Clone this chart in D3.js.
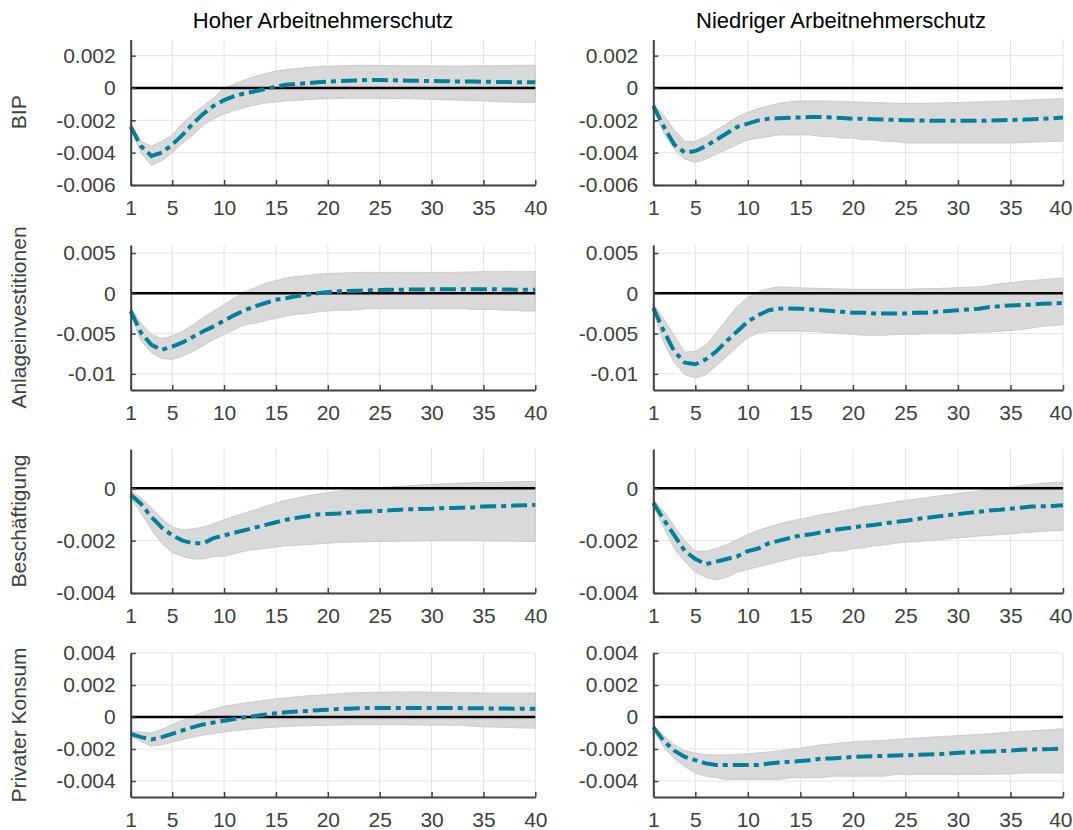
<!DOCTYPE html>
<html>
<head>
<meta charset="utf-8">
<script src="https://cdn.jsdelivr.net/npm/d3@7"></script>
<style>
  body { margin: 0; background: #fff; }
  svg { font-family: "Liberation Sans", Arial, sans-serif; }
</style>
</head>
<body>
<svg class="svg"></svg>
<script>
// horizon (quarters)
let periods = [1,2,3,4,5,6,7,8,9,10,11,12,13,14,15,16,17,18,19,20,
               21,22,23,24,25,26,27,28,29,30,31,32,33,34,35,36,37,38,39,40]
let xTicks = [1,5,10,15,20,25,30,35,40]

let colTitles = ["Hoher Arbeitnehmerschutz", "Niedriger Arbeitnehmerschutz"]
let rowLabels = ["BIP", "Anlageinvestitionen", "Beschäftigung", "Privater Konsum"]

let yDomains = [[-0.006, 0.003], [-0.012, 0.006], [-0.004, 0.0015], [-0.005, 0.004]]
let yTicks = [[-0.006, -0.004, -0.002, 0, 0.002],
              [-0.01, -0.005, 0, 0.005],
              [-0.004, -0.002, 0],
              [-0.004, -0.002, 0, 0.002, 0.004]]

// BIP, hoher Schutz
let bipHochMed = [-0.0024,-0.0036,-0.0042,-0.0040,-0.0035,-0.0029,-0.0022,-0.0016,-0.0011,-0.00075,
                  -0.0005,-0.00033,-0.0002,-0.00006,0.00008,0.0002,0.00025,0.0003,0.00035,0.0004,
                  0.00043,0.00045,0.00047,0.0005,0.0005,0.00048,0.00046,0.00045,0.00044,0.00043,
                  0.00042,0.00041,0.0004,0.0004,0.00039,0.00038,0.00037,0.00036,0.00035,0.00035]
let bipHochHi = [-0.0022,-0.0033,-0.0036,-0.0033,-0.0029,-0.0022,-0.0016,-0.0011,-0.0006,0.0,
                 0.00025,0.0005,0.00072,0.0009,0.00105,0.00114,0.0012,0.00128,0.00132,0.00135,
                 0.00137,0.00139,0.0014,0.0014,0.00139,0.00139,0.00138,0.00138,0.00137,0.00137,
                 0.00136,0.00136,0.00136,0.00137,0.00137,0.00138,0.00139,0.0014,0.0014,0.0014]
let bipHochLo = [-0.0026,-0.0040,-0.0048,-0.0045,-0.0040,-0.0034,-0.0029,-0.0023,-0.0019,-0.0016,
                 -0.0014,-0.0012,-0.00105,-0.00093,-0.00087,-0.0008,-0.00077,-0.00072,-0.00068,-0.00066,
                 -0.00065,-0.00064,-0.00064,-0.00064,-0.00064,-0.00065,-0.00065,-0.00066,-0.00068,-0.0007,
                 -0.00072,-0.00074,-0.00076,-0.00078,-0.0008,-0.00083,-0.00086,-0.00088,-0.0009,-0.0009]

// BIP, niedriger Schutz
let bipNiedMed = [-0.0011,-0.0024,-0.0035,-0.0040,-0.0039,-0.0036,-0.0032,-0.0028,-0.0024,-0.0022,
                  -0.0020,-0.0019,-0.00187,-0.00184,-0.00182,-0.0018,-0.0018,-0.00182,-0.00185,-0.0019,
                  -0.0019,-0.00193,-0.00195,-0.00197,-0.002,-0.002,-0.00202,-0.00203,-0.00203,-0.00203,
                  -0.00203,-0.00203,-0.00202,-0.002,-0.00198,-0.00196,-0.00194,-0.0019,-0.00187,-0.00183]
let bipNiedHi = [-0.001,-0.0017,-0.0026,-0.0033,-0.0033,-0.003,-0.0026,-0.0022,-0.0018,-0.0015,
                 -0.00127,-0.0011,-0.00095,-0.00085,-0.0008,-0.0008,-0.0008,-0.00082,-0.00084,-0.00086,
                 -0.00088,-0.0009,-0.00092,-0.00094,-0.00095,-0.00095,-0.00094,-0.00093,-0.00091,-0.0009,
                 -0.00088,-0.00086,-0.00084,-0.00082,-0.0008,-0.00077,-0.00074,-0.00071,-0.00068,-0.00065]
let bipNiedLo = [-0.0012,-0.0028,-0.0038,-0.0044,-0.0046,-0.0044,-0.0041,-0.0038,-0.0035,-0.0032,
                 -0.0031,-0.003,-0.0029,-0.0029,-0.0029,-0.0029,-0.003,-0.003,-0.0031,-0.0031,
                 -0.0032,-0.0032,-0.0033,-0.0033,-0.0034,-0.0034,-0.0034,-0.0034,-0.0034,-0.0034,
                 -0.0034,-0.0034,-0.0034,-0.0034,-0.0034,-0.00338,-0.00335,-0.00333,-0.0033,-0.0033]

// Anlageinvestitionen, hoher Schutz
let invHochMed = [-0.0022,-0.0049,-0.0064,-0.0070,-0.0066,-0.0061,-0.0054,-0.0047,-0.0041,-0.0034,
                  -0.0027,-0.0021,-0.0016,-0.0012,-0.0008,-0.0006,-0.00033,-0.00017,0,0.00017,
                  0.00025,0.0003,0.00033,0.00037,0.0004,0.00043,0.00045,0.00047,0.00048,0.0005,
                  0.0005,0.0005,0.0005,0.0005,0.0005,0.0005,0.00048,0.00046,0.00045,0.00045]
let invHochHi = [-0.0018,-0.0037,-0.0051,-0.0056,-0.0053,-0.0047,-0.0039,-0.003,-0.0022,-0.0014,
                 -0.0006,0.00017,0.0007,0.00125,0.0016,0.0019,0.0021,0.0022,0.0024,0.00245,
                 0.0025,0.00255,0.0026,0.0026,0.0026,0.0026,0.0026,0.0026,0.0026,0.0026,
                 0.0026,0.0026,0.00265,0.00265,0.0027,0.0027,0.0027,0.0027,0.0027,0.0027]
let invHochLo = [-0.0026,-0.0059,-0.0074,-0.0081,-0.0082,-0.0078,-0.0072,-0.0065,-0.0057,-0.0051,
                 -0.0045,-0.0039,-0.0037,-0.0034,-0.0031,-0.0028,-0.0026,-0.0025,-0.0023,-0.0022,
                 -0.0021,-0.0021,-0.002,-0.0019,-0.0019,-0.0019,-0.0019,-0.0019,-0.0019,-0.0019,
                 -0.0019,-0.0019,-0.0019,-0.002,-0.002,-0.002,-0.0021,-0.0021,-0.0022,-0.0022]

// Anlageinvestitionen, niedriger Schutz
let invNiedMed = [-0.0018,-0.0047,-0.0072,-0.0086,-0.0088,-0.0082,-0.0072,-0.0059,-0.0047,-0.0035,
                  -0.0027,-0.0021,-0.0019,-0.00187,-0.0019,-0.002,-0.0021,-0.0022,-0.0023,-0.0024,
                  -0.0024,-0.0025,-0.0025,-0.0025,-0.0025,-0.0024,-0.0024,-0.0023,-0.0022,-0.0021,
                  -0.002,-0.0019,-0.0017,-0.0016,-0.0015,-0.00145,-0.0014,-0.0013,-0.00125,-0.0012]
let invNiedHi = [-0.0013,-0.0032,-0.0053,-0.0073,-0.0072,-0.0064,-0.0049,-0.0032,-0.0016,-0.0005,
                 0.0002,0.0006,0.0008,0.00075,0.0007,0.00065,0.0006,0.0006,0.00055,0.0005,
                 0.0005,0.0005,0.0005,0.0005,0.0005,0.00055,0.0006,0.0006,0.00065,0.0007,
                 0.00075,0.0008,0.001,0.0012,0.0013,0.0015,0.0016,0.0017,0.0018,0.0019]
let invNiedLo = [-0.0022,-0.0061,-0.0086,-0.0101,-0.0105,-0.0101,-0.009,-0.0078,-0.0066,-0.0055,
                 -0.0049,-0.0047,-0.0047,-0.0047,-0.0047,-0.0047,-0.0048,-0.0049,-0.005,-0.0051,
                 -0.0052,-0.0052,-0.0052,-0.0051,-0.0051,-0.0051,-0.005,-0.005,-0.005,-0.005,
                 -0.0049,-0.0048,-0.0048,-0.0047,-0.0046,-0.0045,-0.0043,-0.0041,-0.004,-0.0039]

// Beschäftigung, hoher Schutz
let empHochMed = [-0.00025,-0.0006,-0.0011,-0.0015,-0.0018,-0.002,-0.0021,-0.0021,-0.0019,-0.0018,
                  -0.0017,-0.0016,-0.0015,-0.0014,-0.0013,-0.0012,-0.00113,-0.00107,-0.001,-0.00098,
                  -0.00096,-0.00093,-0.0009,-0.00088,-0.00087,-0.00084,-0.00082,-0.0008,-0.00079,-0.00078,
                  -0.00076,-0.00075,-0.00074,-0.00073,-0.0007,-0.00069,-0.00068,-0.00066,-0.00065,-0.00064]
let empHochHi = [-0.0001,-0.00037,-0.00075,-0.00116,-0.00148,-0.00158,-0.00155,-0.00148,-0.00135,-0.0012,
                 -0.00107,-0.00094,-0.00082,-0.00069,-0.00056,-0.00046,-0.00037,-0.00029,-0.00023,-0.00017,
                 -0.00011,-0.00008,-0.00004,0,0.00003,0.00005,0.00008,0.0001,0.00013,0.00015,
                 0.00017,0.00018,0.0002,0.00021,0.00022,0.00023,0.00024,0.00025,0.00026,0.00027]
let empHochLo = [-0.0004,-0.00094,-0.00158,-0.0021,-0.00245,-0.0026,-0.0027,-0.0027,-0.0026,-0.0026,
                 -0.0025,-0.0024,-0.00234,-0.0023,-0.00224,-0.0022,-0.00218,-0.00215,-0.00213,-0.0021,
                 -0.00207,-0.00206,-0.00205,-0.00204,-0.00203,-0.00203,-0.00202,-0.00202,-0.00201,-0.00201,
                 -0.002,-0.002,-0.002,-0.002,-0.00201,-0.00201,-0.00202,-0.00202,-0.00203,-0.00203]

// Beschäftigung, niedriger Schutz
let empNiedMed = [-0.00056,-0.0012,-0.0018,-0.0024,-0.0027,-0.0029,-0.0028,-0.0027,-0.0026,-0.0024,
                  -0.0023,-0.0021,-0.002,-0.0019,-0.0018,-0.00176,-0.00168,-0.0016,-0.00155,-0.0015,
                  -0.00144,-0.0014,-0.00134,-0.00129,-0.00124,-0.00118,-0.00113,-0.00108,-0.00103,-0.00098,
                  -0.00094,-0.0009,-0.00085,-0.00082,-0.00078,-0.00074,-0.0007,-0.00069,-0.00068,-0.00065]
let empNiedHi = [-0.0004,-0.00088,-0.00145,-0.002,-0.0024,-0.0024,-0.0023,-0.00215,-0.00196,-0.00177,
                 -0.0016,-0.00148,-0.00136,-0.00126,-0.00117,-0.0011,-0.001,-0.00094,-0.00087,-0.0008,
                 -0.0007,-0.00065,-0.00059,-0.00052,-0.00047,-0.00041,-0.00036,-0.0003,-0.00025,-0.0002,
                 -0.00015,-0.0001,-0.00005,0,0.00005,0.0001,0.00015,0.00019,0.00022,0.00023]
let empNiedLo = [-0.0007,-0.0015,-0.0023,-0.0028,-0.0032,-0.0034,-0.0035,-0.0034,-0.0032,-0.0031,
                 -0.003,-0.0029,-0.0028,-0.0027,-0.0026,-0.00256,-0.0025,-0.0024,-0.0024,-0.0023,
                 -0.00227,-0.0022,-0.00217,-0.0021,-0.00206,-0.00204,-0.002,-0.00198,-0.00193,-0.0019,
                 -0.00186,-0.00182,-0.0018,-0.00177,-0.00175,-0.0017,-0.00168,-0.00165,-0.00162,-0.0016]

// Privater Konsum, hoher Schutz
let konHochMed = [-0.00105,-0.00126,-0.0014,-0.00126,-0.00105,-0.00084,-0.00063,-0.00046,-0.00034,-0.00023,
                  -0.00013,-0.00002,0.00006,0.00015,0.00023,0.0003,0.00034,0.00038,0.00042,0.00046,
                  0.0005,0.00052,0.00054,0.00057,0.00057,0.00057,0.00057,0.00057,0.00057,0.00057,
                  0.00057,0.00057,0.00055,0.00054,0.00054,0.00053,0.00053,0.00052,0.00052,0.00052]
let konHochHi = [-0.0009,-0.00094,-0.001,-0.00078,-0.00048,-0.0002,0.00006,0.0003,0.0005,0.00067,
                 0.00078,0.00088,0.00096,0.00105,0.00113,0.0012,0.00126,0.00132,0.00136,0.0014,
                 0.00145,0.0015,0.00152,0.00154,0.00155,0.00156,0.00157,0.00157,0.00156,0.00155,
                 0.00154,0.00153,0.00152,0.00151,0.0015,0.0015,0.0015,0.0015,0.0015,0.0015]
let konHochLo = [-0.0012,-0.00153,-0.00182,-0.00174,-0.00157,-0.0014,-0.00126,-0.00113,-0.00103,-0.00094,
                 -0.00086,-0.0008,-0.00073,-0.00067,-0.00063,-0.00059,-0.00057,-0.00055,-0.00053,-0.00052,
                 -0.0005,-0.00049,-0.00048,-0.00048,-0.00048,-0.00048,-0.00048,-0.0005,-0.0005,-0.00051,
                 -0.00051,-0.00052,-0.00052,-0.00059,-0.00061,-0.00063,-0.00065,-0.00067,-0.00069,-0.0007]

// Privater Konsum, niedriger Schutz
let konNiedMed = [-0.00063,-0.0015,-0.0021,-0.0025,-0.0027,-0.0029,-0.003,-0.003,-0.003,-0.003,
                  -0.003,-0.0029,-0.00285,-0.0028,-0.00275,-0.0027,-0.0026,-0.0026,-0.00254,-0.0025,
                  -0.00247,-0.00245,-0.00243,-0.0024,-0.00239,-0.00237,-0.00235,-0.00233,-0.00229,-0.00224,
                  -0.00222,-0.00218,-0.00216,-0.00212,-0.0021,-0.00205,-0.00203,-0.00201,-0.002,-0.00197]
let konNiedHi = [-0.0005,-0.00115,-0.00174,-0.0021,-0.00226,-0.00235,-0.00237,-0.00237,-0.00235,-0.0023,
                 -0.00224,-0.00218,-0.00212,-0.00203,-0.00195,-0.00184,-0.00174,-0.00168,-0.00161,-0.00155,
                 -0.00151,-0.00149,-0.00145,-0.0014,-0.00136,-0.00132,-0.00128,-0.00124,-0.0012,-0.00117,
                 -0.00113,-0.00109,-0.00105,-0.001,-0.00094,-0.0009,-0.00086,-0.00082,-0.00078,-0.00073]
let konNiedLo = [-0.0008,-0.0019,-0.0026,-0.0031,-0.0035,-0.0037,-0.0038,-0.0039,-0.0039,-0.0039,
                 -0.0039,-0.0039,-0.0039,-0.0038,-0.0038,-0.0038,-0.0038,-0.0037,-0.0037,-0.0037,
                 -0.0037,-0.0037,-0.0037,-0.0036,-0.0036,-0.0036,-0.0036,-0.0036,-0.0036,-0.0036,
                 -0.0036,-0.0036,-0.00358,-0.00357,-0.00357,-0.0035,-0.0035,-0.0035,-0.0035,-0.0035]

let panels = [
  [{med: bipHochMed, lo: bipHochLo, hi: bipHochHi}, {med: bipNiedMed, lo: bipNiedLo, hi: bipNiedHi}],
  [{med: invHochMed, lo: invHochLo, hi: invHochHi}, {med: invNiedMed, lo: invNiedLo, hi: invNiedHi}],
  [{med: empHochMed, lo: empHochLo, hi: empHochHi}, {med: empNiedMed, lo: empNiedLo, hi: empNiedHi}],
  [{med: konHochMed, lo: konHochLo, hi: konHochHi}, {med: konNiedMed, lo: konNiedLo, hi: konNiedHi}]
]

let colX = [[130.7, 535.3], [653.3, 1063]]
let rowY = [[39.5, 185], [245, 390], [449, 593], [653, 797]]
let titleX = [323, 841]

let svg = d3.select(".svg").attr("width", 1073).attr("height", 830)

let fmt = (d) => d === 0 ? "0" : String(+d.toFixed(4))

colTitles.forEach((t, c) => {
    svg.append("text")
       .attr("x", titleX[c]).attr("y", 28)
       .attr("text-anchor", "middle")
       .attr("font-size", 22)
       .attr("fill", "#000")
       .text(t)
})

rowLabels.forEach((lab, r) => {
    let cy = (rowY[r][0] + rowY[r][1]) / 2
    svg.append("text")
       .attr("transform", "translate(26," + cy + ") rotate(-90)")
       .attr("text-anchor", "middle")
       .attr("font-size", 21)
       .attr("fill", "#404040")
       .text(lab)
})

panels.forEach((row, r) => {
    row.forEach((p, c) => {
        let x = d3.scaleLinear().domain([1, 40]).range(colX[c])
        let y = d3.scaleLinear().domain(yDomains[r]).range([rowY[r][1], rowY[r][0]])
        let g = svg.append("g")

        // grid
        g.selectAll(".gx").data(xTicks.slice(1)).enter().append("line")
         .attr("x1", d => x(d)).attr("x2", d => x(d))
         .attr("y1", y.range()[0]).attr("y2", y.range()[1])
         .attr("stroke", "#e3e3e3").attr("stroke-width", 1)
        g.selectAll(".gy").data(yTicks[r]).enter().append("line")
         .attr("x1", x.range()[0]).attr("x2", x.range()[1])
         .attr("y1", d => y(d)).attr("y2", d => y(d))
         .attr("stroke", "#e3e3e3").attr("stroke-width", 1)

        // confidence band
        let area = d3.area()
                     .x((d, i) => x(periods[i]))
                     .y0((d, i) => y(p.lo[i]))
                     .y1((d, i) => y(p.hi[i]))
        g.append("path")
         .datum(p.med)
         .attr("d", area)
         .attr("fill", "#d9d9d9")
         .attr("stroke", "#c4c4c4")
         .attr("stroke-width", 0.8)

        // zero line
        g.append("line")
         .attr("x1", x.range()[0]).attr("x2", x.range()[1])
         .attr("y1", y(0)).attr("y2", y(0))
         .attr("stroke", "#000").attr("stroke-width", 2.5)

        // median response
        let line = d3.line()
                     .x((d, i) => x(periods[i]))
                     .y(d => y(d))
        g.append("path")
         .datum(p.med)
         .attr("d", line)
         .attr("fill", "none")
         .attr("stroke", "#00809b")
         .attr("stroke-width", 4)
         .attr("stroke-dasharray", "16,5,5,5")

        // axes
        let xAxis = d3.axisBottom(x).tickValues(xTicks).tickSize(-5).tickPadding(15).tickSizeOuter(0)
        let yAxis = d3.axisLeft(y).tickValues(yTicks[r]).tickSize(-5).tickPadding(15).tickSizeOuter(0).tickFormat(fmt)

        let ax = g.append("g").attr("transform", "translate(0," + rowY[r][1] + ")").call(xAxis)
        let ay = g.append("g").attr("transform", "translate(" + colX[c][0] + ",0)").call(yAxis)

        ;[ax, ay].forEach(a => {
            a.select(".domain").attr("stroke", "#404040").attr("stroke-width", 2)
            a.selectAll(".tick line").attr("stroke", "#404040").attr("stroke-width", 1.5)
            a.selectAll(".tick text")
             .attr("fill", "#404040")
             .attr("font-size", 21)
             .attr("font-family", "Liberation Sans, Arial, sans-serif")
        })
        // keep the last label inside the page on the right column
        if (c === 1) {
            ax.selectAll(".tick text").filter(d => d === 40).attr("text-anchor", "end").attr("dx", 9)
        }
    })
})
</script>
</body>
</html>
